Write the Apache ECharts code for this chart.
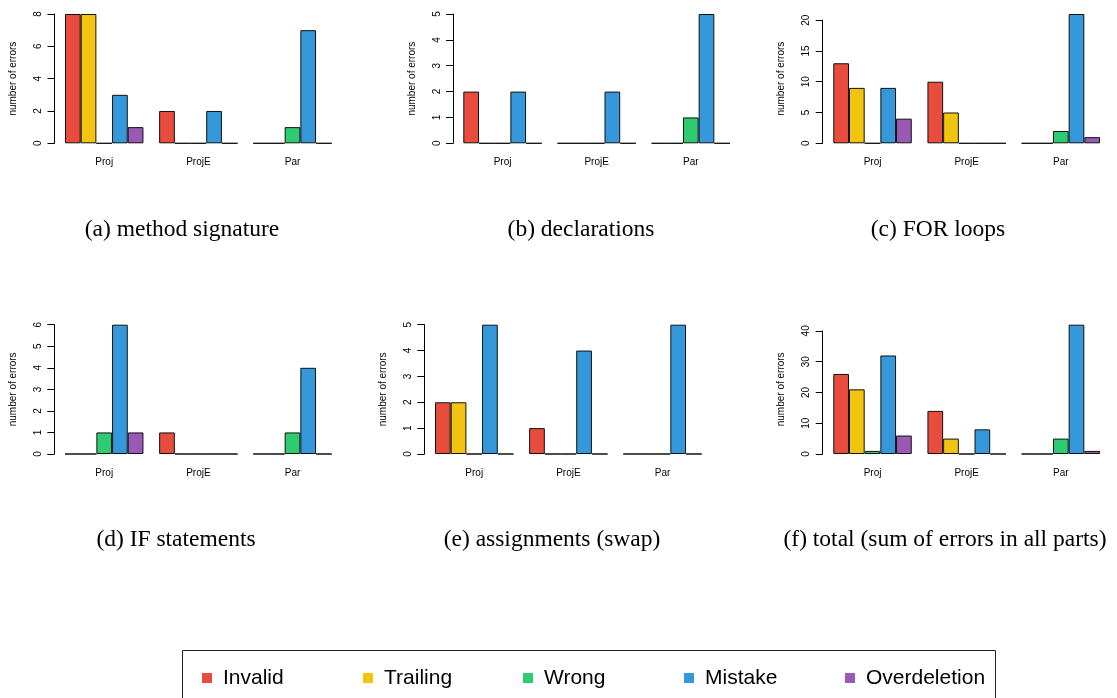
<!DOCTYPE html>
<html><head><meta charset="utf-8">
<script src="https://cdn.jsdelivr.net/npm/echarts@6/dist/echarts.min.js"></script>
<style>html,body{margin:0;padding:0;background:#fff}#c{width:1117px;height:698px}</style>
</head><body><div id="c"></div>
<script>
// ---------- data ----------
const categories = ['Proj', 'ProjE', 'Par'];
const errorTypes = ['Invalid', 'Trailing', 'Wrong', 'Mistake', 'Overdeletion'];
// rows follow errorTypes, columns follow categories
const methodSignature = [[8, 2, 0], [8, 0, 0], [0, 0, 1], [3, 2, 7], [1, 0, 0]];
const declarations    = [[2, 0, 0], [0, 0, 0], [0, 0, 1], [2, 2, 5], [0, 0, 0]];
const forLoops        = [[13, 10, 0], [9, 5, 0], [0, 0, 2], [9, 0, 21], [4, 0, 1]];
const ifStatements    = [[0, 1, 0], [0, 0, 0], [1, 0, 1], [6, 0, 4], [1, 0, 0]];
const assignments     = [[2, 1, 0], [2, 0, 0], [0, 0, 0], [5, 4, 5], [0, 0, 0]];
const totals          = [[26, 14, 0], [21, 5, 0], [1, 0, 5], [32, 8, 42], [6, 0, 1]];
const panelCaptions = ['(a) method signature', '(b) declarations', '(c) FOR loops',
  '(d) IF statements', '(e) assignments (swap)', '(f) total (sum of errors in all parts)'];
const tickSteps = [2, 1, 5, 1, 1, 10];
const yAxisTitle = 'number of errors';
const panelData = [methodSignature, declarations, forLoops, ifStatements, assignments, totals];

// ---------- style / layout ----------
const colors = ['#E74C3C', '#F1C40F', '#2ECC71', '#3498DB', '#9B59B6'];
const sans = 'Liberation Sans';
const serif = 'Liberation Serif';
const unit = 15.69;
const plotH = 129.3;
const panels = [
  { barLeft: 65,    base: 143.3, axisX: 54.5,  capX: 182, capY: 230 },
  { barLeft: 463.3, base: 143.3, axisX: 453,   capX: 581, capY: 230 },
  { barLeft: 833.3, base: 143.3, axisX: 822.7, capX: 938, capY: 230 },
  { barLeft: 65,    base: 454,   axisX: 54.3,  capX: 176, capY: 540 },
  { barLeft: 435,   base: 454,   axisX: 424.3, capX: 552, capY: 540 },
  { barLeft: 833.3, base: 454,   axisX: 822.7, capX: 945, capY: 540 }
];
const legendX = [197, 358, 518, 679, 840];

const grid = [], xAxis = [], yAxis = [], series = [], graphic = [];
panels.forEach((p, i) => {
  const data = panelData[i];
  const M = Math.max(...data.flat());
  const step = tickSteps[i];
  const T = Math.floor(M / step) * step;
  const gl = p.barLeft - unit / 2;
  const gw = 18 * unit;
  const off = gl - p.axisX;
  const hT = plotH * T / M;
  grid.push({ left: gl, top: p.base - plotH, width: gw, height: plotH });
  grid.push({ left: gl, top: p.base - hT, width: gw, height: hT });
  xAxis.push({
    type: 'category', gridIndex: 2 * i, data: categories,
    axisLine: { show: false }, axisTick: { show: false },
    axisLabel: { fontSize: 10, color: '#000', margin: 14, fontFamily: sans }
  });
  xAxis.push({ type: 'category', gridIndex: 2 * i + 1, data: categories, show: false });
  yAxis.push({
    type: 'value', gridIndex: 2 * i, min: 0, max: M, offset: off,
    axisLine: { show: false }, axisTick: { show: false }, axisLabel: { show: false },
    splitLine: { show: false },
    name: yAxisTitle, nameLocation: 'middle', nameGap: 36, nameRotate: 90,
    nameTextStyle: { fontSize: 10, color: '#000', fontFamily: sans }
  });
  yAxis.push({
    type: 'value', gridIndex: 2 * i + 1, min: 0, max: T, interval: step, offset: off,
    axisLine: { show: true, lineStyle: { color: '#000', width: 1 } },
    axisTick: { show: true, length: 7, lineStyle: { color: '#000', width: 1 } },
    axisLabel: { rotate: 90, fontSize: 10, color: '#000', margin: 11, fontFamily: sans },
    splitLine: { show: false }
  });
  errorTypes.forEach((name, t) => {
    series.push({
      type: 'bar', name: name, xAxisIndex: 2 * i, yAxisIndex: 2 * i,
      data: data[t], barGap: '0%', barCategoryGap: (100 / 6) + '%',
      itemStyle: { color: colors[t], borderColor: '#111', borderWidth: 1 },
      emphasis: { disabled: true }, silent: true
    });
  });
  graphic.push({
    type: 'text', x: p.capX, y: p.capY,
    style: { text: panelCaptions[i], fontSize: 23.5, fontFamily: serif, fill: '#000',
      align: 'center', verticalAlign: 'middle' }
  });
});

graphic.push({
  type: 'rect', shape: { x: 182.5, y: 650.5, width: 813, height: 80 },
  style: { fill: 'none', stroke: '#222', lineWidth: 1 }
});

const legend = errorTypes.map((name, t) => ({
  data: [name], left: legendX[t], top: 661, orient: 'horizontal',
  icon: 'rect', itemWidth: 10, itemHeight: 10, selectedMode: false,
  itemStyle: { borderWidth: 0 },
  textStyle: { fontSize: 21, color: '#000', fontFamily: sans, padding: [0, 0, 0, 6], lineHeight: 24 }
}));

const chart = echarts.init(document.getElementById('c'), null, { renderer: 'canvas' });
chart.setOption({
  animation: false,
  backgroundColor: '#fff',
  grid, xAxis, yAxis, series, legend, graphic
});
</script>
</body></html>
